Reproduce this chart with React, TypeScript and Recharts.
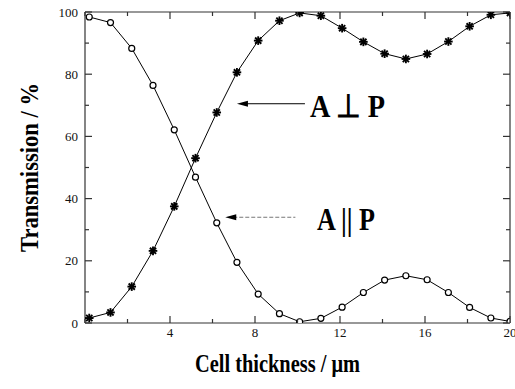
import React from 'react';
import { LineChart, Line, XAxis, YAxis, ReferenceLine, ReferenceDot } from 'recharts';

const THICKNESS = [0.2, 1.2, 2.2, 3.2, 4.2, 5.2, 6.2, 7.15, 8.15, 9.15, 10.1, 11.1, 12.1, 13.1, 14.1, 15.1, 16.1, 17.1, 18.1, 19.1, 20];
const PARALLEL = [98.4, 96.6, 88.3, 76.4, 62.1, 46.9, 32.2, 19.5, 9.3, 3.0, 0.4, 1.5, 5.1, 9.8, 13.8, 15.2, 13.9, 9.8, 5.0, 1.6, 0.5];
const PERPENDICULAR = [1.6, 3.4, 11.7, 23.2, 37.5, 53.0, 67.7, 80.6, 90.8, 97.2, 99.7, 98.8, 94.8, 90.4, 86.6, 84.9, 86.5, 90.5, 95.4, 99.1, 99.7];
const X_TICKS = [0, 2, 4, 6, 8, 10, 12, 14, 16, 18, 20];
const X_LABELED = [4, 8, 12, 16, 20];
const Y_TICKS = [0, 10, 20, 30, 40, 50, 60, 70, 80, 90, 100];
const Y_LABELED = [0, 20, 40, 60, 80, 100];
const X_TITLE = 'Cell thickness / μm';
const Y_TITLE = 'Transmission / %';
const LABEL_PERP = 'A ⊥ P';
const LABEL_PAR = 'A || P';
const ARROW_PERP = [{ x: 7.15, y: 70.5 }, { x: 10.35, y: 70.5 }];
const ARROW_PAR = [{ x: 6.6, y: 34 }, { x: 9.9, y: 34 }];
const TEXT_PERP = { x: 10.59, y: 66.3 };
const TEXT_PAR = { x: 10.92, y: 30.0 };

const parData = THICKNESS.map((x, i) => ({ x, v: PARALLEL[i] }));
const perpData = THICKNESS.map((x, i) => ({ x, v: PERPENDICULAR[i] }));

const FS = { fontFamily: 'Liberation Serif' };
const AX = '#333';

const LeftTick = (p: any) => {
  const v = p.payload.value;
  const major = Y_LABELED.includes(v);
  return (
    <g>
      <line x1={p.x} x2={p.x + (major ? 7 : 4)} y1={p.y} y2={p.y} stroke={AX} strokeWidth={1.2} />
      {major && (
        <text x={p.x - 7} y={p.y + 4.5} textAnchor="end" style={FS} fontSize={13} fill="#111">{v}</text>
      )}
    </g>
  );
};
const RightTick = (p: any) => {
  const v = p.payload.value;
  const major = Y_LABELED.includes(v);
  return <line x1={p.x} x2={p.x - (major ? 7 : 4)} y1={p.y} y2={p.y} stroke={AX} strokeWidth={1.2} />;
};
const BottomTick = (p: any) => {
  const v = p.payload.value;
  const major = X_LABELED.includes(v);
  return (
    <g>
      <line x1={p.x} x2={p.x} y1={p.y} y2={p.y - (major ? 7 : 4)} stroke={AX} strokeWidth={1.2} />
      {major && (
        <text x={p.x} y={p.y + 14} textAnchor="middle" style={FS} fontSize={13} fill="#111">{v}</text>
      )}
    </g>
  );
};
const TopTick = (p: any) => {
  const v = p.payload.value;
  const major = X_LABELED.includes(v);
  return <line x1={p.x} x2={p.x} y1={p.y} y2={p.y + (major ? 7 : 4)} stroke={AX} strokeWidth={1.2} />;
};

const Circle = (p: any) => {
  if (p.cx == null || p.cy == null) return null;
  return <circle cx={p.cx} cy={p.cy} r={3} fill="#fff" stroke="#000" strokeWidth={1.2} />;
};
const Star = (p: any) => {
  if (p.cx == null || p.cy == null) return null;
  const { cx, cy } = p;
  const r = 4.3;
  const d = 3.1;
  return (
    <g stroke="#000" strokeWidth={1.9}>
      <line x1={cx - r} x2={cx + r} y1={cy} y2={cy} />
      <line x1={cx} x2={cx} y1={cy - r} y2={cy + r} />
      <line x1={cx - d} x2={cx + d} y1={cy - d} y2={cy + d} />
      <line x1={cx - d} x2={cx + d} y1={cy + d} y2={cy - d} />
    </g>
  );
};

const arrowShape = (color: string, dash?: string) => (p: any) => {
  const { x1, y1, x2, y2 } = p;
  return (
    <g>
      <line x1={x1 + 8} y1={y1} x2={x2} y2={y2} stroke={color} strokeWidth={1} strokeDasharray={dash} />
      <polygon points={`${x1},${y1} ${x1 + 11},${y1 - 3} ${x1 + 11},${y1 + 3}`} fill="#000" />
    </g>
  );
};

const textShape = (txt: string, width: number, size: number) => (p: any) => (
  <text x={p.cx} y={p.cy} style={FS} fontWeight="bold" fontSize={size} fill="#000"
    textLength={width} lengthAdjust="spacingAndGlyphs">{txt}</text>
);

const XTitle = (p: any) => {
  const vb = p.viewBox;
  return (
    <text x={vb.x + vb.width / 2 - 20} y={vb.y + 49} textAnchor="middle" style={FS} fontWeight="bold"
      fontSize={26} fill="#000" textLength={165} lengthAdjust="spacingAndGlyphs">{X_TITLE}</text>
  );
};
const YTitle = (p: any) => {
  const vb = p.viewBox;
  const cx = 38;
  const cy = vb.y + vb.height / 2;
  return (
    <text x={cx} y={cy} transform={`rotate(-90, ${cx}, ${cy})`} textAnchor="middle" style={FS}
      fontWeight="bold" fontSize={26} fill="#000" textLength={169} lengthAdjust="spacingAndGlyphs">{Y_TITLE}</text>
  );
};

export default function App() {
  return (
    <div style={{ position: 'absolute', left: 0, top: 0, width: 515, height: 389, background: '#fff' }}>
      <LineChart width={515} height={389} margin={{ top: 0, right: 0, bottom: 0, left: 0 }}>
        <XAxis dataKey="x" type="number" domain={[0, 20]} ticks={X_TICKS} interval={0} tickSize={0} tickMargin={0}
          tickLine={false} tick={<BottomTick />} axisLine={{ stroke: AX, strokeWidth: 1.2 }} height={66}
          allowDataOverflow label={<XTitle />} />
        <XAxis xAxisId="top" orientation="top" dataKey="x" type="number" domain={[0, 20]} ticks={X_TICKS} interval={0}
          tickSize={0} tickMargin={0} tickLine={false} tick={<TopTick />} axisLine={{ stroke: AX, strokeWidth: 1.2 }} height={12}
          allowDataOverflow />
        <YAxis type="number" domain={[0, 100]} ticks={Y_TICKS} interval={0} tickSize={0} tickMargin={0} tickLine={false}
          tick={<LeftTick />} axisLine={{ stroke: AX, strokeWidth: 1.2 }} width={85} allowDataOverflow label={<YTitle />} />
        <YAxis yAxisId="right" orientation="right" type="number" domain={[0, 100]} ticks={Y_TICKS} interval={0} tickSize={0}
          tickMargin={0} tickLine={false} tick={<RightTick />} axisLine={{ stroke: AX, strokeWidth: 1.2 }} width={5}
          allowDataOverflow />
        <Line data={parData} dataKey="v" stroke="#000" strokeWidth={1} dot={<Circle />} activeDot={false}
          isAnimationActive={false} type="linear" />
        <Line data={perpData} dataKey="v" stroke="#000" strokeWidth={1} dot={<Star />} activeDot={false}
          isAnimationActive={false} type="linear" />
        <ReferenceLine segment={ARROW_PERP} ifOverflow="visible" shape={arrowShape('#000')} />
        <ReferenceLine segment={ARROW_PAR} ifOverflow="visible" shape={arrowShape('#777', '4 2')} />
        <ReferenceDot x={TEXT_PERP.x} y={TEXT_PERP.y} ifOverflow="visible" shape={textShape(LABEL_PERP, 75, 32)} />
        <ReferenceDot x={TEXT_PAR.x} y={TEXT_PAR.y} ifOverflow="visible" shape={textShape(LABEL_PAR, 58, 31)} />
      </LineChart>
    </div>
  );
}
